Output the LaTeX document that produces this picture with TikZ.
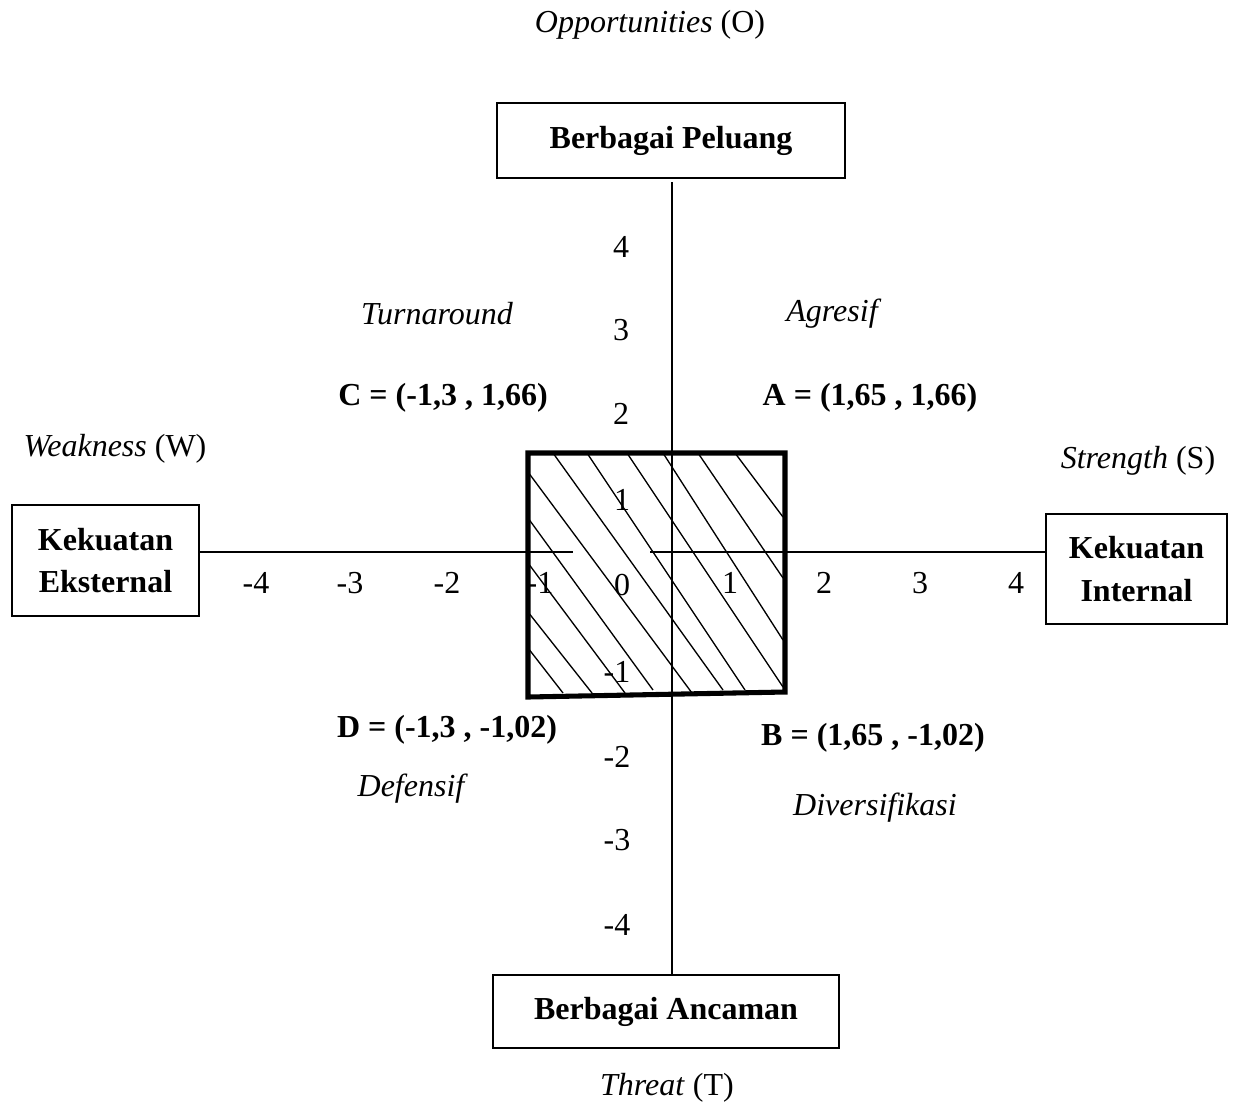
\documentclass[tikz,border=0pt]{standalone}
\usepackage{fontspec}
\setmainfont{Liberation Serif}
\begin{document}
\begin{tikzpicture}[x=0.75pt,y=-0.75pt,
  every node/.style={font=\fontsize{24}{32}\selectfont, inner sep=0pt},
  box/.style={draw, line width=1.5pt, align=center, font=\fontsize{24}{32}\selectfont\bfseries},
  axisline/.style={line width=1.3pt},
  hatchline/.style={line width=1pt},
  framebox/.style={line width=3.8pt, line join=miter},
  lab/.style={font=\fontsize{24}{32}\selectfont\itshape},
  ptlab/.style={font=\fontsize{24}{32}\selectfont\bfseries}]
\useasboundingbox (0,0) rectangle (1234,1104);

% boxes
\node[box, minimum width=261pt, minimum height=56.25pt] (top) at (671,140.5) {Berbagai Peluang};
\node[box, minimum width=259.5pt, minimum height=54.75pt] (bot) at (666,1011.5) {Berbagai Ancaman};
\node[box, minimum width=140.25pt, minimum height=83.25pt] (left) at (105.5,560.5) {Kekuatan\\Eksternal};
\node[box, minimum width=135.75pt, minimum height=82.5pt] (right) at (1136.5,569) {Kekuatan\\Internal};

% axes
\coordinate (vt) at (672,182);
\coordinate (vb) at (672,974);
\coordinate (hl) at (573,552);
\coordinate (hr) at (650,552);
\draw[axisline] (vt) -- (vb);
\draw[axisline] (left.east |- hl) -- (hl);
\draw[axisline] (hr) -- (right.west |- hr);

% hatching
\draw[hatchline] (528,648) -- (563,693);
\draw[hatchline] (528,612) -- (592,693);
\draw[hatchline] (528,563) -- (625,693);
\draw[hatchline] (528,518) -- (653,690);
\draw[hatchline] (528,472) -- (692,693);
\draw[hatchline] (553,453) -- (723,690);
\draw[hatchline] (587,453) -- (745,690);
\draw[hatchline] (627,453) -- (783,687);
\draw[hatchline] (663,453) -- (783,640);
\draw[hatchline] (698,453) -- (783,578);
\draw[hatchline] (735,453) -- (783,517);
\draw[framebox] (528,453) -- (785,453) -- (785,692) -- (528,697) -- cycle;

% vertical tick labels
\node (y4) at (621,247) {4};
\node (y3) at (621,330) {3};
\node (y2) at (621,414) {2};
\node (y1) at (622,500) {1};
\node (ym1) at (617,672) {-1};
\node (ym2) at (617,757) {-2};
\node (ym3) at (617,840) {-3};
\node (ym4) at (617,925) {-4};
% horizontal tick labels
\node (xm4) at (256,583) {-4};
\node (xm3) at (350,583) {-3};
\node (xm2) at (447,583) {-2};
\node (xm1) at (540,583) {-1};
\node (x0) at (622,585) {0};
\node (x1) at (730,583) {1};
\node (x2) at (824,583) {2};
\node (x3) at (920,583) {3};
\node (x4) at (1016,583) {4};

% quadrant labels
\node[lab] (turn) at (437,314) {Turnaround};
\node[lab] (agr) at (832,314) {Agresif};
\node[lab] (def) at (411,789) {Defensif};
\node[lab] (div) at (875,808) {Diversifikasi};
\node[ptlab] (C) at (443,398) {C = (-1,3 , 1,66)};
\node[ptlab] (A) at (870,398) {A = (1,65 , 1,66)};
\node[ptlab] (D) at (447,730) {D = (-1,3 , -1,02)};
\node[ptlab] (B) at (873,738) {B = (1,65 , -1,02)};

% direction labels
\node (opp) at (650,25) {\textit{Opportunities} (O)};
\node (thr) at (667,1088) {\textit{Threat} (T)};
\node (weak) at (115,449) {\textit{Weakness} (W)};
\node (str) at (1138,461) {\textit{Strength} (S)};
\end{tikzpicture}
\end{document}
